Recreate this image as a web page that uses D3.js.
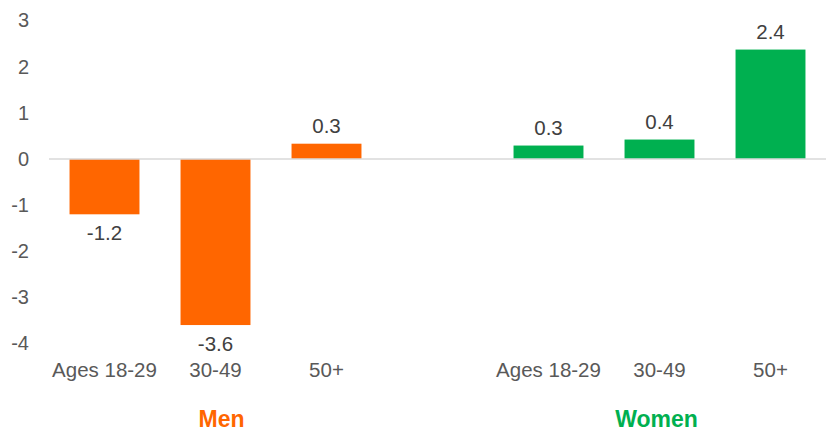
<!DOCTYPE html>
<html>
<head>
<meta charset="utf-8">
<script src="https://cdn.jsdelivr.net/npm/d3@7"></script>
<style>
  body { margin: 0; background: #fff; }
  text { font-family: "Liberation Sans", Arial, sans-serif; }
  .tick-label { font-size: 20px; fill: #595959; }
  .cat-label { font-size: 20.5px; fill: #595959; }
  .value-label { font-size: 20.5px; fill: #404040; }
  .group-label { font-size: 23px; font-weight: bold; }
</style>
</head>
<body>
<div id="chart"></div>
<script>
// data
const ageGroups = ['Ages 18-29', '30-49', '50+'];
const menValues = [-1.2, -3.6, 0.33];
const womenValues = [0.29, 0.42, 2.37];
const groupNames = ['Men', 'Women'];
const groupColors = ['#ff6600', '#00b050'];
const yTicks = [3, 2, 1, 0, -1, -2, -3, -4];

// chart static params
const chart_width = 833;
const chart_height = 432;
const margin = {top: 20.5, right: 7, bottom: 88.5, left: 49};
const width = chart_width - margin.left - margin.right;
const height = chart_height - margin.top - margin.bottom;

// rows for the band scale, one empty slot between the groups
const rows = [];
ageGroups.forEach((a, i) => rows.push({key: 'm' + i, age: a, value: menValues[i], g: 0}));
rows.push({key: 'gap', age: null, value: null, g: -1});
ageGroups.forEach((a, i) => rows.push({key: 'w' + i, age: a, value: womenValues[i], g: 1}));
const bars = rows.filter(d => d.value !== null);

// scales
const xScale = d3.scaleBand()
  .domain(rows.map(d => d.key))
  .range([0, width])
  .paddingInner(0.37)
  .paddingOuter(0.185);

const yScale = d3.scaleLinear()
  .domain([-4, 3])
  .range([height, 0]);

// plain hyphen as minus sign, like the original
const locale = d3.formatLocale({decimal: '.', thousands: ',', grouping: [3], currency: ['', ''], minus: '-'});
const fmt = locale.format('.1f');
const fmtInt = locale.format('d');

const svg = d3.select('#chart')
  .append('svg')
    .attr('width', chart_width)
    .attr('height', chart_height)
  .append('g')
    .attr('transform', `translate(${margin.left},${margin.top})`);

// y axis labels only
const yAxis = d3.axisLeft(yScale).tickValues(yTicks).tickSize(0).tickPadding(20).tickFormat(fmtInt);
const yAxisG = svg.append('g').call(yAxis);
yAxisG.select('.domain').remove();
yAxisG.selectAll('text').attr('class', 'tick-label').attr('fill', null).attr('font-size', null).attr('font-family', null);

// bars
svg.selectAll('.bar')
  .data(bars)
  .enter().append('rect')
    .attr('class', 'bar')
    .attr('x', d => xScale(d.key))
    .attr('width', xScale.bandwidth())
    .attr('y', d => yScale(Math.max(0, d.value)))
    .attr('height', d => Math.abs(yScale(d.value) - yScale(0)))
    .attr('fill', d => groupColors[d.g]);

// zero line
svg.append('line')
  .attr('x1', 0).attr('x2', width)
  .attr('y1', yScale(0)).attr('y2', yScale(0))
  .attr('stroke', '#d9d9d9').attr('stroke-width', 1.5);

// value labels
svg.selectAll('.value-label')
  .data(bars)
  .enter().append('text')
    .attr('class', 'value-label')
    .attr('text-anchor', 'middle')
    .attr('x', d => xScale(d.key) + xScale.bandwidth() / 2)
    .attr('y', d => d.value >= 0 ? yScale(d.value) - 11 : yScale(d.value) + 26)
    .text(d => fmt(d.value));

// category labels
svg.selectAll('.cat-label')
  .data(bars)
  .enter().append('text')
    .attr('class', 'cat-label')
    .attr('text-anchor', 'middle')
    .attr('x', d => xScale(d.key) + xScale.bandwidth() / 2)
    .attr('y', height + 33)
    .text(d => d.age);

// group labels
groupNames.forEach((name, gi) => {
  const mid = bars.filter(d => d.g === gi)[1];
  svg.append('text')
    .attr('class', 'group-label')
    .attr('text-anchor', 'middle')
    .attr('x', xScale(mid.key) + xScale.bandwidth() / 2 + (gi === 0 ? 6 : -3))
    .attr('y', height + 83.5)
    .attr('fill', groupColors[gi])
    .text(name);
});
</script>
</body>
</html>
